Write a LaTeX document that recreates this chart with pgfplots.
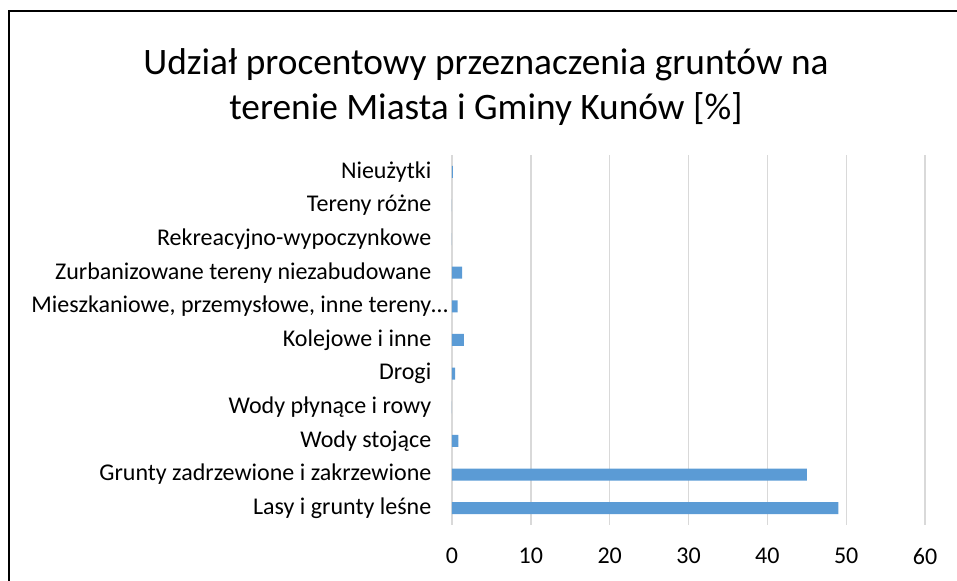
\documentclass[border=0pt]{standalone}
\usepackage{pgfplots}
\pgfplotsset{compat=1.18}
\usepackage{fontspec}
\setmainfont{Carlito}
\definecolor{barblue}{HTML}{5B9BD5}
\definecolor{gridgray}{HTML}{D9D9D9}
\begin{document}
\begin{tikzpicture}
\useasboundingbox (0,0) rectangle (717.75pt,435.75pt);
\clip (0,0) rectangle (717.75pt,435.75pt);
\draw[line width=1.6pt] (6.75pt,-20pt) -- (6.75pt,427.5pt) -- (740pt,427.5pt);
\node[anchor=base,font=\fontsize{28}{33}\selectfont] at (364.5pt,379.5pt) {Udział procentowy przeznaczenia gruntów na};
\node[anchor=base,font=\fontsize{28}{33}\selectfont] at (364.5pt,346pt) {terenie Miasta i Gminy Kunów [\%]};
\begin{axis}[
  at={(339pt,42pt)}, anchor=south west,
  scale only axis, width=354.75pt, height=277.5pt,
  xbar, bar width=9pt,
  xmin=0, xmax=60, xtick={0,10,...,60},
  ymin=-0.5, ymax=10.5, ytick={0,...,10},
  yticklabels={Lasy i grunty leśne, Grunty zadrzewione i zakrzewione, Wody stojące, Wody płynące i rowy, Drogi, Kolejowe i inne, {Mieszkaniowe, przemysłowe, inne tereny\rlap{…}}, Zurbanizowane tereny niezabudowane, Rekreacyjno-wypoczynkowe, Tereny różne, Nieużytki},
  axis x line*=bottom, axis y line*=left,
  x axis line style={draw=none},
  y axis line style={draw=gridgray, line width=1pt, -},
  xmajorgrids, grid style={gridgray, line width=1pt},
  major tick length=0pt,
  tick label style={font=\fontsize{18}{21}\selectfont, text=black},
  xticklabel style={yshift=-14pt},
  yticklabel style={xshift=-12pt},
  /pgf/number format/assume math mode=true,
]
\addplot[fill=barblue, draw=none] coordinates {
(49,0) (45,1) (0.8,2) (0,3) (0.4,4) (1.5,5) (0.7,6) (1.3,7) (0,8) (0,9) (0.1,10)};
\end{axis}
\end{tikzpicture}
\end{document}
